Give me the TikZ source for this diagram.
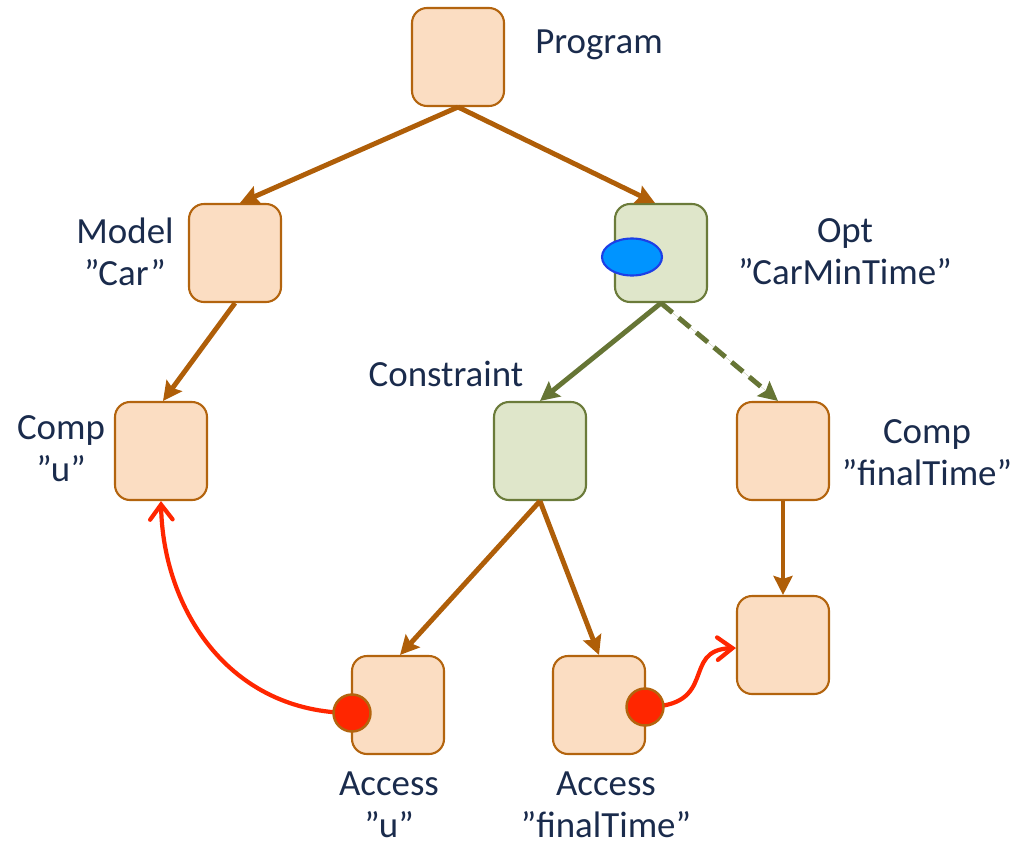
\documentclass[tikz,border=0pt]{standalone}
\usepackage{fontspec}
\setmainfont{Carlito}
\usetikzlibrary{arrows.meta}
\definecolor{peach}{HTML}{FBDDC2}
\definecolor{peachline}{HTML}{B3640E}
\definecolor{brownarr}{HTML}{AF5E08}
\definecolor{greenfill}{HTML}{DFE6CA}
\definecolor{greenline}{HTML}{6B7B3A}
\definecolor{greenarr}{HTML}{667535}
\definecolor{navy}{HTML}{1A2B4C}
\definecolor{redc}{HTML}{FF2600}
\definecolor{bluefill}{HTML}{0094FF}
\definecolor{blueline}{HTML}{1D3FE6}
\tikzset{
  box/.style={draw=peachline, fill=peach, line width=1.2pt, rounded corners=0.3cm,
    minimum width=1.84cm, minimum height=1.96cm, inner sep=0pt},
  gbox/.style={box, draw=greenline, fill=greenfill},
  lbl/.style={text=navy, font=\fontsize{21}{24}\selectfont, align=center, inner sep=0pt},
  barr/.style={draw=brownarr, line width=2.8pt, -{Stealth[length=0.38cm,width=0.38cm,inset=0.06cm]}},
  garr/.style={barr, draw=greenarr, fill=greenarr},
  rarr/.style={draw=redc, line width=2.4pt, line cap=round, -{Straight Barb[length=0.3cm,width=0.45cm,line cap=round]}},
  rdot/.style={circle, draw=peachline, fill=redc, line width=1.4pt, minimum size=0.74cm, inner sep=0pt},
}
\begin{document}
\begin{tikzpicture}[x=0.02cm, y=-0.02cm]
\useasboundingbox (0,0) rectangle (1028,848);
% boxes
\node[box] (prog) at (458,57) {};
\node[box] (model) at (235,253) {};
\node[gbox] (opt) at (661,253) {};
\node[box] (compu) at (161,451) {};
\node[gbox] (cons) at (540,451) {};
\node[box] (compf) at (783,451) {};
\node[box] (tgt) at (783,645) {};
\node[box] (accu) at (398,705) {};
\node[box] (accf) at (599,705) {};
% labels
\node[lbl] (lprog) at (599,45) {Program};
\node[lbl] (lmodel) at (125,252) {Model\\”Car”};
\node[lbl] (lopt) at (845,252) {Opt\\”CarMinTime”};
\node[lbl] (lcons) at (446,374) {Constraint};
\node[lbl] (lcompu) at (61,449) {Comp\\”u”};
\node[lbl] (lcompf) at (927,453) {Comp\\”finalTime”};
\node[lbl] (laccu) at (389,805) {Access\\”u”};
\node[lbl] (laccf) at (606,805) {Access\\”finalTime”};
% tree edges
\draw[barr] (prog.south) -- ([xshift=0.1cm]model.north);
\draw[barr] (prog.south) -- ([xshift=-0.12cm]opt.north);
\draw[barr] (model.south) -- ([xshift=0.04cm]compu.north);
\draw[garr] (opt.south) -- (cons.north);
\draw[garr, dashed, dash pattern=on 0.3cm off 0.16cm] (opt.south) -- ([xshift=-0.1cm]compf.north);
\draw[barr] (cons.south) -- ([xshift=0.04cm]accu.north);
\draw[barr] (cons.south) -- (accf.north);
\draw[barr] (compf.south) -- (tgt.north);
% blue ellipse
\draw[draw=blueline, fill=bluefill, line width=1.2pt] (632,257) ellipse [x radius=30, y radius=18.5];
% red references
\coordinate (du) at (352,713);
\coordinate (df) at (645,707);
\draw[rarr] (du) .. controls (230,713) and (163,610) .. (compu.south);
\draw[rarr] (df) .. controls (720,707) and (680,650) .. ([yshift=-0.06cm]tgt.west);
\node[rdot] (dotu) at (du) {};
\node[rdot] (dotf) at (df) {};
\end{tikzpicture}
\end{document}
